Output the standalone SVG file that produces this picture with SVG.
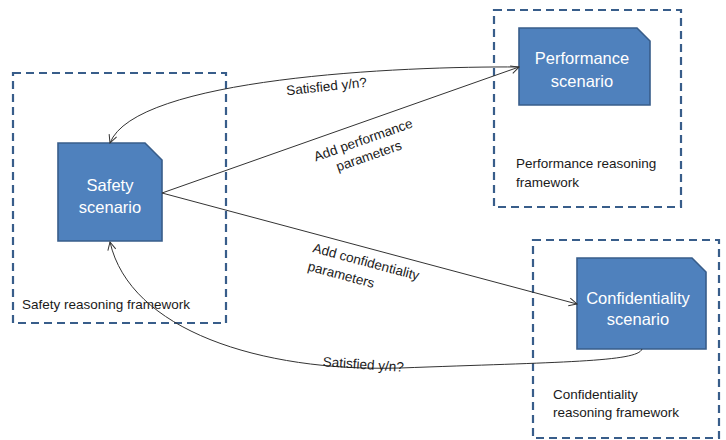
<svg xmlns="http://www.w3.org/2000/svg" width="726" height="440" viewBox="0 0 726 440">
  <style>
    .frame { fill: none; stroke: #385D8A; stroke-width: 2.2; stroke-dasharray: 8 5; }
    .node { fill: #4F81BD; stroke: #385D8A; stroke-width: 1.6; }
    .ntext { font-family: "Liberation Sans", Arial, sans-serif; font-size: 16.5px; fill: #ffffff; text-anchor: middle; }
    .ftext { font-family: "Liberation Sans", Arial, sans-serif; font-size: 13.5px; fill: #1a1a1a; }
    .ltext { font-family: "Liberation Sans", Arial, sans-serif; font-size: 13.5px; fill: #1a1a1a; }
    .conn { fill: none; stroke: #333333; stroke-width: 1; }
  </style>
  <defs>
    <marker id="open-arrow" markerUnits="userSpaceOnUse" markerWidth="12" markerHeight="12" refX="9" refY="5" orient="auto">
      <path d="M1,1 L9,5 L1,9" fill="none" stroke="#333333" stroke-width="1"/>
    </marker>
  </defs>

  <rect width="726" height="440" fill="#ffffff"/>

  <!-- reasoning frameworks -->
  <g id="safety-framework">
    <rect class="frame" x="13" y="73" width="213" height="250"/>
    <text class="ftext" x="22" y="309">Safety reasoning framework</text>
  </g>
  <g id="performance-framework">
    <rect class="frame" x="494" y="10" width="187" height="197"/>
    <text class="ftext" x="516" y="168">Performance reasoning</text>
    <text class="ftext" x="516" y="187">framework</text>
  </g>
  <g id="confidentiality-framework">
    <rect class="frame" x="533" y="240" width="186" height="198"/>
    <text class="ftext" x="553" y="399">Confidentiality</text>
    <text class="ftext" x="553" y="417">reasoning framework</text>
  </g>

  <!-- scenario nodes -->
  <g id="safety-scenario">
    <path class="node" d="M58,143 H145 L162,160 V241 H58 Z"/>
    <text class="ntext" x="110" y="191">Safety</text>
    <text class="ntext" x="110" y="213">scenario</text>
  </g>
  <g id="performance-scenario">
    <path class="node" d="M519,28 H637 L650,41 V105 H519 Z"/>
    <text class="ntext" x="582" y="64">Performance</text>
    <text class="ntext" x="582" y="87">scenario</text>
  </g>
  <g id="confidentiality-scenario">
    <path class="node" d="M577,258 H692 L706,272 V349 H577 Z"/>
    <text class="ntext" x="638" y="304">Confidentiality</text>
    <text class="ntext" x="638" y="325">scenario</text>
  </g>

  <!-- connectors -->
  <g id="connectors">
    <path class="conn" d="M519,67 C400,66 135,78 110,143" marker-end="url(#open-arrow)"/>
    <path class="conn" d="M162,193 L519,67" marker-end="url(#open-arrow)"/>
    <path class="conn" d="M162,193 L577,304" marker-end="url(#open-arrow)"/>
    <path class="conn" d="M642,349 C638,362 560,362 400,368 C260,372 130,330 110,242" marker-end="url(#open-arrow)"/>

    <text class="ltext" text-anchor="middle" transform="translate(327,91) rotate(-6)">Satisfied y/n?</text>
    <g transform="translate(366,148) rotate(-19.4)">
      <text class="ltext" text-anchor="middle" x="0" y="-4">Add performance</text>
      <text class="ltext" text-anchor="middle" x="0" y="13">parameters</text>
    </g>
    <g transform="translate(312,252) rotate(15)">
      <text class="ltext" x="0" y="0">Add confidentiality</text>
      <text class="ltext" x="0" y="19">parameters</text>
    </g>
    <text class="ltext" text-anchor="middle" transform="translate(363,369) rotate(4)">Satisfied y/n?</text>
  </g>
</svg>
